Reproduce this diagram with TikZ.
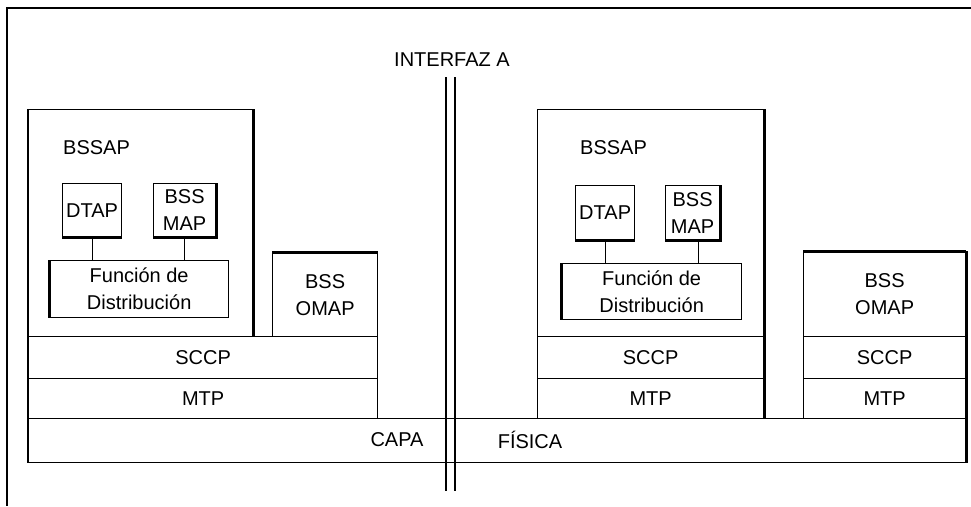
\documentclass[tikz,border=0pt]{standalone}
\usepackage{fontspec}
\setmainfont{Liberation Sans}
\usetikzlibrary{calc}
\begin{document}
\begin{tikzpicture}[x=1pt,y=-1pt,
  box/.style={draw, line width=1.3pt, inner sep=0pt, anchor=north west, align=center},
  thk/.style={line width=3pt},
  lbl/.style={inner sep=0pt, align=center},
  conn/.style={line width=1.3pt},
  every node/.style={font=\fontsize{20}{27}\selectfont}]
\useasboundingbox (0,0) rectangle (971,506);
% outer frame
\coordinate (frTL) at (7,8);
\coordinate (frTR) at (971,8);
\coordinate (frBL) at (7,506);
\draw[line width=2.5pt] (frTR) -- (frTL) -- (frBL);
% interface A
\node[lbl] (ifa) at (452,60) {INTERFAZ A};
\coordinate (ia1t) at (446,77); \coordinate (ia1b) at (446,491);
\coordinate (ia2t) at (455,77); \coordinate (ia2b) at (455,491);
% physical layer
\node[box, minimum width=937pt, minimum height=44pt] (capa) at (28,418) {};
\node[lbl] (capaT) at (397,440) {CAPA};
\node[lbl] (fisT) at (530,440) {FÍSICA};
% left stack
\node[box, minimum width=224pt, minimum height=227pt] (bssapL) at (28,109) {};
\node[lbl, anchor=west] (bssapLT) at (63,148) {BSSAP};
\node[box, minimum width=59pt, minimum height=53pt] (dtapL) at (62,183) {DTAP};
\node[box, minimum width=62pt, minimum height=53pt] (bssmapL) at (153,183) {BSS\\MAP};
\node[box, minimum width=179pt, minimum height=57pt] (funcL) at (49,260) {Función de\\Distribución};
\node[box, minimum width=105pt, minimum height=84pt] (omapL) at (272,252) {BSS\\OMAP};
\node[box, minimum width=349pt, minimum height=42pt] (sccpL) at (28,336) {SCCP};
\node[box, minimum width=349pt, minimum height=40pt] (mtpL) at (28,378) {MTP};
% right stack
\node[box, minimum width=226pt, minimum height=227pt] (bssapR) at (537,109) {};
\node[lbl, anchor=west] (bssapRT) at (580,148) {BSSAP};
\node[box, minimum width=59pt, minimum height=54pt] (dtapR) at (575,185) {DTAP};
\node[box, minimum width=54pt, minimum height=54pt] (bssmapR) at (665,185) {BSS\\MAP};
\node[box, minimum width=180pt, minimum height=56pt] (funcR) at (561,263) {Función de\\Distribución};
\node[box, minimum width=226pt, minimum height=42pt] (sccpR) at (537,336) {SCCP};
\node[box, minimum width=226pt, minimum height=40pt] (mtpR) at (537,378) {MTP};
% far right stack
\node[box, minimum width=162pt, minimum height=85pt] (omapR) at (803,251) {BSS\\OMAP};
\node[box, minimum width=162pt, minimum height=42pt] (sccpR2) at (803,336) {SCCP};
\node[box, minimum width=162pt, minimum height=40pt] (mtpR2) at (803,378) {MTP};
% connectors
\draw[conn] (dtapL.south) -- (dtapL.south |- funcL.north);
\draw[conn] (bssmapL.south) -- (bssmapL.south |- funcL.north);
\draw[conn] (dtapR.south) -- (dtapR.south |- funcR.north);
\draw[conn] ([xshift=6pt]bssmapR.south) -- ([xshift=6pt]bssmapR.south |- funcR.north);
% interface lines
\draw[line width=1.3pt] (ia1t) -- (ia1b);
\draw[line width=1.3pt] (ia2t) -- (ia2b);
% 3D thick edges
\draw[thk] (bssapL.north east) -- (bssapL.south east);
\draw[line width=2.5pt] (bssapL.north west) -- (capa.south west);
\draw[thk] (dtapL.south west) -- (dtapL.south east);
\draw[thk] (bssmapL.north east) -- (bssmapL.south east) -- (bssmapL.south west);
\draw[thk] (funcL.north west) -- (funcL.south west);
\draw[thk] (omapL.north west) -- (omapL.north east);
\draw[thk] (bssapR.north east) -- (mtpR.south east);
\draw[thk] (dtapR.south west) -- (dtapR.south east);
\draw[thk] (bssmapR.north east) -- (bssmapR.south east) -- (bssmapR.south west);
\draw[thk] (funcR.north west) -- (funcR.south west);
\draw[thk] (omapR.north west) -- (omapR.north east);
\draw[line width=2.5pt] (omapR.north east) -- (capa.south east);
\end{tikzpicture}
\end{document}
